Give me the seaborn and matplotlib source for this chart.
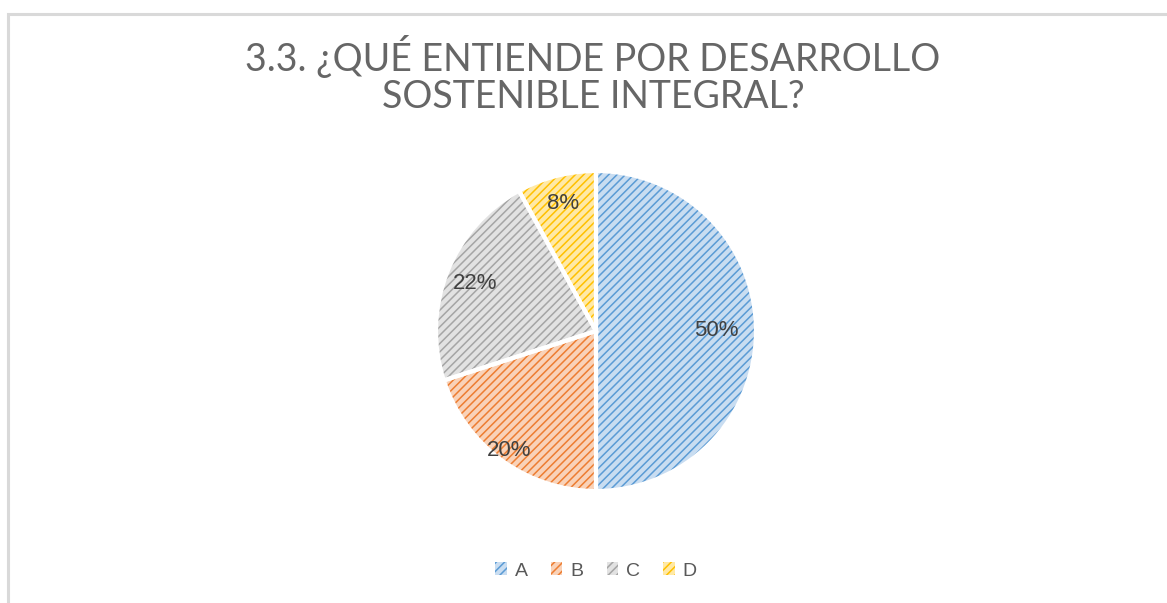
import matplotlib
matplotlib.use("Agg")
import matplotlib.pyplot as plt
import matplotlib.patches as mpatches
import seaborn as sns

# data
categories = ["A", "B", "C", "D"]
shares = [50, 20, 22, 8]
label_dist = [0.75, 0.92, 0.81, 0.82]  # where Excel placed each data label

title = "3.3. ¿QUÉ ENTIENDE POR DESARROLLO\nSOSTENIBLE INTEGRAL?"

sns.set_theme(style="white")
plt.rcParams["font.family"] = ["Liberation Sans", "DejaVu Sans"]
plt.rcParams["hatch.linewidth"] = 1.1

main_colors = sns.color_palette(["#5B9BD5", "#ED7D31", "#A5A5A5", "#FFC000"])
light_colors = sns.color_palette(["#C9DDF1", "#F9D2B8", "#E2E2E2", "#FFE9A6"])

W, H = 1167, 603
fig = plt.figure(figsize=(W / 100, H / 100), dpi=100)

# chart frame (grey border, partly cut off like the screenshot)
fig.patches.append(mpatches.Rectangle((8 / W, -0.05), 1.2, 1 - 14 / H + 0.05,
                                      transform=fig.transFigure, fill=False,
                                      edgecolor="#D9D9D9", linewidth=2.2))

cx, cy, half = 596, 331, 170
ax = fig.add_axes([(cx - half) / W, (H - cy - half) / H, 2 * half / W, 2 * half / H])
lim = half / 160

# hatched wedges: light fill, hatch drawn in the main colour
wedges, _, autotexts = ax.pie(shares, colors=light_colors, startangle=90,
                              counterclock=False, autopct="%1.0f%%",
                              pctdistance=1.0, radius=1,
                              wedgeprops=dict(linewidth=0),
                              textprops=dict(color="#404040", fontsize=16))
for w, c in zip(wedges, main_colors):
    w.set_hatch("////")
    w.set_edgecolor(c)

# white separators on top
ax.pie(shares, colors=["none"] * 4, startangle=90, counterclock=False, radius=1,
       wedgeprops=dict(linewidth=3, edgecolor="white"))

for t, d in zip(autotexts, label_dist):
    x, y = t.get_position()
    t.set_position((x * d, y * d))

ax.set_xlim(-lim, lim)
ax.set_ylim(-lim, lim)
ax.set_aspect("equal")
ax.axis("off")

fig.text(593 / W, 1 - 75 / H, title, ha="center", va="center", fontsize=27,
         family=["Lato", "DejaVu Sans"], color="#666666", linespacing=1.05)

handles = [mpatches.Patch(facecolor=lc, edgecolor=mc, hatch="////", linewidth=0)
           for lc, mc in zip(light_colors, main_colors)]
fig.legend(handles, categories, loc="center", bbox_to_anchor=(596 / W, 1 - 571 / H),
           ncol=4, frameon=False, fontsize=14, handlelength=0.6, handleheight=0.6,
           handletextpad=0.4, columnspacing=1.2, labelcolor="#595959")

fig.savefig("out.png", dpi=100, facecolor="white")
